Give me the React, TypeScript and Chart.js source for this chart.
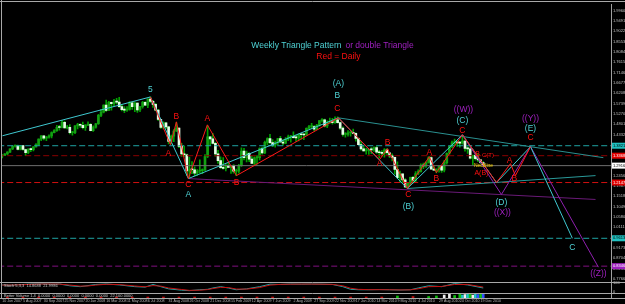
import React, { useEffect, useRef } from "react";
import { Chart, registerables } from "chart.js";
Chart.register(...registerables);

const FONT = '"Liberation Sans", Arial, sans-serif';

// ---- weekly candles (bar index 0 = week of 10 Jun 2007) ----
const opens = [
  1.336,1.338,1.345,1.353,1.368,1.380,1.382,1.365,1.383,1.365,
  1.351,1.365,1.364,1.377,1.387,1.412,1.427,1.416,1.421,1.427,
  1.442,1.451,1.466,1.465,1.489,1.463,1.466,1.441,1.441,1.472,
  1.478,1.475,1.464,1.476,1.479,1.451,1.467,1.482,1.520,1.535,
  1.567,1.543,1.579,1.573,1.581,1.580,1.560,1.546,1.544,1.547,
  1.577,1.560,1.576,1.545,1.560,1.579,1.567,1.594,1.584,1.570,
  1.544,1.502,1.465,1.486,1.468,1.402,1.425,1.449,1.462,1.379,
  1.345,1.341,1.268,1.274,1.273,1.257,1.267,1.269,1.272,1.333,
  1.422,1.413,1.393,1.345,1.314,1.282,1.279,1.293,1.284,1.292,
  1.266,1.266,1.293,1.358,1.328,1.348,1.321,1.302,1.327,1.328,
  1.369,1.349,1.397,1.415,1.396,1.385,1.397,1.415,1.399,1.394,
  1.412,1.422,1.425,1.419,1.418,1.433,1.432,1.431,1.461,1.469,
  1.469,1.457,1.476,1.496,1.500,1.472,1.488,1.490,1.487,1.500,
  1.487,1.462,1.434,1.434,1.441,1.441,1.438,1.415,1.387,1.368,
  1.359,1.362,1.364,1.363,1.374,1.353,1.350,1.347,1.363,1.350,
  1.336,1.329,1.274,1.237,1.254,1.227,1.195,1.211,1.238,1.224,
  1.256,1.264,1.294,1.290,1.306,1.328,1.275,1.271,1.276,1.289,
  1.271,1.305,1.348,1.379,1.395,1.398,1.395,1.394,1.403,1.370,
  1.368,1.325,1.338,1.323,1.318,1.305,
];
const highs = [
  1.341,1.346,1.355,1.368,1.381,1.385,1.385,1.383,1.384,1.367,
  1.369,1.371,1.378,1.392,1.413,1.428,1.428,1.425,1.432,1.445,
  1.455,1.475,1.475,1.497,1.494,1.475,1.478,1.447,1.474,1.484,
  1.482,1.490,1.478,1.491,1.483,1.472,1.484,1.525,1.547,1.568,
  1.590,1.584,1.580,1.593,1.598,1.602,1.570,1.560,1.560,1.583,
  1.581,1.581,1.577,1.561,1.584,1.583,1.595,1.604,1.588,1.575,
  1.547,1.502,1.491,1.488,1.470,1.431,1.455,1.487,1.464,1.393,
  1.381,1.344,1.330,1.310,1.286,1.274,1.318,1.277,1.342,1.472,
  1.425,1.438,1.397,1.361,1.332,1.328,1.299,1.307,1.293,1.296,
  1.276,1.298,1.373,1.370,1.358,1.351,1.334,1.332,1.337,1.373,
  1.376,1.403,1.418,1.434,1.410,1.403,1.416,1.425,1.410,1.419,
  1.430,1.429,1.445,1.431,1.436,1.437,1.438,1.464,1.475,1.484,
  1.474,1.479,1.496,1.506,1.503,1.495,1.508,1.507,1.514,1.514,
  1.490,1.468,1.442,1.451,1.446,1.458,1.441,1.418,1.402,1.381,
  1.370,1.366,1.374,1.377,1.381,1.361,1.360,1.369,1.369,1.350,
  1.345,1.330,1.309,1.267,1.254,1.233,1.216,1.240,1.243,1.264,
  1.272,1.300,1.303,1.309,1.333,1.332,1.293,1.277,1.290,1.290,
  1.315,1.350,1.379,1.403,1.412,1.404,1.402,1.428,1.409,1.378,
  1.375,1.340,1.345,1.345,1.320,1.310,
];
const lows = [
  1.327,1.337,1.341,1.351,1.364,1.376,1.363,1.363,1.362,1.337,
  1.346,1.355,1.359,1.375,1.384,1.405,1.409,1.405,1.416,1.418,
  1.440,1.447,1.453,1.463,1.462,1.459,1.436,1.430,1.437,1.458,
  1.465,1.459,1.452,1.473,1.449,1.447,1.462,1.479,1.514,1.531,
  1.538,1.541,1.544,1.562,1.572,1.556,1.540,1.532,1.538,1.544,
  1.547,1.537,1.533,1.537,1.553,1.564,1.555,1.578,1.556,1.540,
  1.497,1.461,1.459,1.460,1.390,1.390,1.401,1.446,1.373,1.333,
  1.334,1.246,1.233,1.255,1.245,1.247,1.259,1.255,1.269,1.328,
  1.384,1.390,1.335,1.302,1.279,1.276,1.268,1.283,1.256,1.257,
  1.246,1.257,1.288,1.317,1.309,1.310,1.301,1.291,1.298,1.318,
  1.344,1.346,1.386,1.392,1.378,1.376,1.387,1.396,1.385,1.392,
  1.405,1.398,1.416,1.402,1.404,1.412,1.410,1.430,1.458,1.461,
  1.449,1.455,1.471,1.489,1.468,1.464,1.484,1.480,1.484,1.485,
  1.456,1.425,1.421,1.425,1.425,1.436,1.403,1.387,1.362,1.357,
  1.344,1.343,1.346,1.356,1.347,1.327,1.335,1.330,1.342,1.328,
  1.313,1.253,1.234,1.215,1.215,1.191,1.188,1.205,1.212,1.216,
  1.250,1.262,1.278,1.283,1.303,1.275,1.270,1.259,1.262,1.261,
  1.263,1.298,1.344,1.373,1.384,1.379,1.375,1.389,1.357,1.347,
  1.322,1.296,1.316,1.310,1.300,1.288,
];
const closes = [
  1.338,1.345,1.353,1.368,1.380,1.382,1.365,1.383,1.365,1.351,
  1.365,1.364,1.377,1.387,1.412,1.427,1.416,1.421,1.427,1.442,
  1.451,1.466,1.465,1.489,1.463,1.466,1.441,1.441,1.472,1.478,
  1.475,1.464,1.476,1.479,1.451,1.467,1.482,1.520,1.535,1.567,
  1.543,1.579,1.573,1.581,1.580,1.560,1.546,1.544,1.547,1.577,
  1.560,1.576,1.545,1.560,1.579,1.567,1.594,1.584,1.570,1.544,
  1.502,1.465,1.486,1.468,1.402,1.425,1.449,1.462,1.379,1.345,
  1.341,1.268,1.274,1.273,1.257,1.267,1.269,1.272,1.333,1.422,
  1.413,1.393,1.345,1.314,1.282,1.279,1.293,1.284,1.292,1.266,
  1.266,1.293,1.358,1.328,1.348,1.321,1.302,1.327,1.328,1.369,
  1.349,1.397,1.415,1.396,1.385,1.397,1.415,1.399,1.394,1.412,
  1.422,1.425,1.419,1.418,1.433,1.432,1.431,1.461,1.469,1.469,
  1.457,1.476,1.496,1.500,1.472,1.488,1.490,1.487,1.500,1.487,
  1.462,1.434,1.434,1.441,1.441,1.438,1.415,1.387,1.368,1.359,
  1.362,1.364,1.363,1.374,1.353,1.350,1.347,1.363,1.350,1.336,
  1.329,1.274,1.237,1.254,1.227,1.195,1.211,1.238,1.224,1.256,
  1.264,1.294,1.290,1.306,1.328,1.275,1.271,1.276,1.289,1.271,
  1.305,1.348,1.379,1.395,1.398,1.395,1.394,1.403,1.370,1.368,
  1.325,1.338,1.323,1.318,1.305,1.292,
];

// ---- date axis ----
const dateIdx = [0,8,16,24,32,40,48,56,64,72,80,88,96,104,112,120,128,136,144,152,160,168,176,184];
const dateLabels = [
  "10 Jun 2007","5 Aug 2007","30 Sep 2007","25 Nov 2007","20 Jan 2008","16 Mar 2008",
  "11 May 2008","6 Jul 2008","31 Aug 2008","26 Oct 2008","21 Dec 2008","15 Feb 2009",
  "12 Apr 2009","7 Jun 2009","2 Aug 2009","27 Sep 2009","22 Nov 2009","17 Jan 2010",
  "14 Mar 2010","9 May 2010","4 Jul 2010","29 Aug 2010","24 Oct 2010","19 Dec 2010",
];
// ---- price axis ----
const priceTicks = [
  1.9960,1.9491,1.9022,1.8553,1.8084,1.7615,1.7146,1.6677,1.6208,1.5739,1.5270,1.4801,1.4332,
  1.3863,1.3394,1.2925,1.2456,1.1987,1.1518,1.1049,1.0580,1.0111,0.9642,0.9173,0.8704,0.8235,0.7766,
];

// ---- wave lines ----
const cyanWaveIdx = [0.08,57.0,71.6,129.3,155.8,177.0,190.1,203.2,219.3];
const cyanWavePx = [1.4273,1.6038,1.2328,1.5088,1.1875,1.4319,1.2147,1.3776,0.9613];
const triUpperIdx = [129.3,231.2];
const triUpperPx = [1.5088,1.3278];
const triLowerIdx = [155.8,228.2];
const triLowerPx = [1.1875,1.2463];
const purpleLowIdx = [71.6,228.2];
const purpleLowPx = [1.2328,1.1378];
const purpleWaveIdx = [177.0,192.0,203.2,229.3];
const purpleWavePx = [1.4319,1.1604,1.3776,0.8300];
const redWaveIdx = [57.0,64.7,67.0,71.6,78.9,90.1,129.3,145.1,148.2,155.8,164.3,167.0,177.0,190.1,195.5,197.4,203.2];
const redWavePx = [1.6038,1.3866,1.4907,1.2328,1.4771,1.2463,1.5088,1.3187,1.3685,1.1875,1.3323,1.2599,1.4319,1.2147,1.3006,1.2463,1.3776];

// ---- horizontal levels ----
const hlinePx = [1.3821,1.3368,1.2916,1.2147,0.9613,0.8346];
const hlineColor = ["#1fa5a5","#8b0000","#6e6e6e","#d01010","#1fa5a5","#801080"];
const hlineDashed = [true,true,false,true,true,true];
const hlineBox = ["#20c0c0","#e00000","#ffffff","#e00000","#20c0c0","#a020c0"];
const hlineBoxText = ["#000000","#ffffff","#000000","#ffffff","#000000","#ffffff"];

// ---- text notes ----
const CY = "#4fd3d6", RD = "#ff1010", PU = "#a020c0", YE = "#ffd800";
const noteText = [
  "Weekly Triangle Pattern","or double Triangle","Red = Daily",
  "(A)","B","C","5","B","A","A","C","A","B","B","A","C","(B)","A","B",
  "C","(C)","((W))","((Y))","(E)","C","A","B","(D)","((X))","C","((Z))",
  "B","C(T)","Neckline","A(B)",
];
const noteIdx = [
  95.8,132.0,120.8,
  129.3,128.9,128.9,57.0,67.0,63.9,78.9,71.6,71.6,90.1,148.2,145.1,156.2,156.2,164.3,167.0,
  177.0,177.0,177.4,203.2,203.2,203.2,195.1,197.0,192.0,192.4,219.3,229.3,
  182.8,186.8,185.1,184.3,
];
const notePx = [
  1.8391,1.8391,1.7848,
  1.6626,1.6083,1.5495,1.6355,1.5133,1.3459,1.5043,1.2056,1.1604,1.2147,1.3957,1.3006,1.1604,1.1061,1.3504,1.2328,
  1.4500,1.4952,1.5450,1.5043,1.4590,1.4183,1.3142,1.2328,1.1242,1.0789,0.9206,0.7984,
  1.3459,1.3369,1.2916,1.2599,
];
const noteColor = [
  CY,PU,RD,
  CY,CY,RD,CY,RD,RD,RD,RD,CY,RD,RD,RD,RD,CY,RD,RD,
  RD,CY,PU,PU,CY,RD,RD,RD,CY,PU,CY,PU,
  RD,RD,YE,RD,
];
const noteSize = [
  8.5,8.5,8.5,
  8.5,8.5,8.5,8.5,8.5,8.5,8.5,8.5,8.5,8.5,8.5,8.5,8.5,8.5,8.5,8.5,
  8.5,8.5,8.5,8.5,8.5,8.5,8.5,8.5,8.5,8.5,8.5,8.5,
  7,6,5,7,
];
const noteAlign = ["left","left","left"];

// ---- stochastic ----
const stochIdx = [0,4,8,11,15,19,22,26,30,33,36,40,45,51,55,58,61,64,69,72,76,79,81,84,87,90,94,99,103,107,111,115,119,123,127,131,134,137,141,145,149,153,157,160,164,169,174,179,185];
const stochK = [80,78,85,90,92,88,90,70,60,72,85,90,80,60,55,85,60,35,20,15,25,30,45,60,45,25,35,60,88,85,90,88,90,88,85,60,30,25,25,27,25,22,25,45,70,60,95,80,45];
const stochD = [78,79,82,87,90,90,89,78,66,68,78,87,84,68,58,72,66,45,28,18,20,27,38,52,50,33,32,50,78,86,88,89,89,88,86,70,42,30,26,26,25,23,24,36,60,62,85,85,55];

// ---- volume ----
const volIdx = [2,8,14,20,26,32,38,44,50,56,62,68,74,80,86,92,98,104,110,116,122,128,134,140,146,152,158,164,167,170,172,174,176,177,178,179,180,181,182,183,184,185];
const volVal = [2,2,2,2,2,2,2,2,2,2,2,2,2,2,2,2,2,2,2,2,2,2,2,2,2,4,3,3,4,6,8,5,9,6,7,9,8,6,9,7,8,9];
const volColor = [
  "r","r","r","r","r","r","r","r","r","r","r","r","r","r","r","r","r","r","r","r","r","r","r","r","r",
  "g","r","g","g","w","w","g","g","c","w","c","g","w","c","b","g","b",
];
const VOLC: Record<string, string> = { r: "#c01010", g: "#10c010", w: "#f0f0f0", c: "#20c8c8", b: "#3050ff" };

function lineDs(xs: number[], ys: number[], color: string, dash: number[] = [], order = 3, axis = "y") {
  return {
    type: "line",
    data: xs.map((x, k) => ({ x, y: ys[k] })),
    borderColor: color,
    borderWidth: 1,
    borderDash: dash,
    pointRadius: 0,
    fill: false,
    tension: 0,
    order,
    yAxisID: axis,
  };
}

const overlayPlugin = {
  id: "overlay",
  beforeDraw(chart: any) {
    const c = chart.ctx;
    c.save();
    c.fillStyle = "#000";
    c.fillRect(0, 0, chart.width, chart.height);
    c.restore();
  },
  afterDraw(chart: any) {
    const c = chart.ctx;
    const { x, y, yS, yV } = chart.scales;
    c.save();
    c.beginPath();
    c.rect(x.left, y.top, x.right - x.left, y.bottom - y.top);
    c.clip();
    c.textBaseline = "middle";
    noteText.forEach((t, i) => {
      c.font = `${noteSize[i]}px ${FONT}`;
      c.fillStyle = noteColor[i];
      c.textAlign = noteAlign[i] || "center";
      c.fillText(t, x.getPixelForValue(noteIdx[i]), y.getPixelForValue(notePx[i]));
    });
    c.restore();

    c.save();
    c.strokeStyle = "#a8a8a8";
    c.lineWidth = 1;
    const hl = (yy: number) => { c.beginPath(); c.moveTo(0, yy); c.lineTo(chart.width, yy); c.stroke(); };
    hl(1.5);
    hl(Math.round(yS.top) + 0.5);
    hl(Math.round(yV.top) + 0.5);
    hl(Math.round(x.top) + 0.5);
    c.beginPath(); c.moveTo(1.5, 0); c.lineTo(1.5, x.top); c.stroke();
    c.font = `4px ${FONT}`;
    c.textAlign = "left";
    c.textBaseline = "middle";
    hlinePx.forEach((p, i) => {
      const py = y.getPixelForValue(p);
      c.fillStyle = hlineBox[i];
      c.fillRect(y.left + 1, py - 3, chart.width - y.left - 1, 6);
      c.fillStyle = hlineBoxText[i];
      c.fillText(p.toFixed(4), y.left + 2, py);
    });
    c.fillStyle = "#c8c8c8";
    c.textBaseline = "top";
    c.fillText("Stoch 5,3,3  14.8688  21.9986", 4, yS.top + 1.5);
    c.fillText("Better Volume 1.4  0.0000  0.0000  0.0000  0.0000  0.0000  22,100.0000", 4, yV.top + 1);
    c.restore();
  },
};

export default function App() {
  const ref = useRef<HTMLCanvasElement>(null);
  useEffect(() => {
    const idx = closes.map((_, i) => i);
    const wickData = idx.map((i) => ({ x: i, y: [lows[i], highs[i]] }));
    const bodyData = idx.map((i) => ({ x: i, y: [Math.min(opens[i], closes[i]), Math.max(opens[i], closes[i])] }));
    const bodyColors = idx.map((i) => (closes[i] >= opens[i] ? "#12a012" : "#e6ffe6"));

    const datasets: any[] = [
      lineDs(redWaveIdx, redWavePx, "#ff1a1a", [], 1),
      lineDs(cyanWaveIdx, cyanWavePx, "#3fc8d0", [], 2),
      lineDs(purpleWaveIdx, purpleWavePx, "#9020b0", [], 3),
      lineDs(triUpperIdx, triUpperPx, "#2a9090", [], 4),
      lineDs(triLowerIdx, triLowerPx, "#2a9a9a", [], 4),
      lineDs(purpleLowIdx, purpleLowPx, "#6a1a78", [], 4),
      ...hlinePx.map((p, i) => lineDs([-5, 240], [p, p], hlineColor[i], hlineDashed[i] ? [6, 3] : [], 8)),
      {
        type: "bar", data: bodyData, backgroundColor: bodyColors, borderWidth: 0,
        barThickness: 2, grouped: false, minBarLength: 1, order: 18, yAxisID: "y",
      },
      {
        type: "bar", data: wickData, backgroundColor: "#00a000", borderWidth: 0,
        barThickness: 1, grouped: false, order: 19, yAxisID: "y",
      },
      lineDs(stochIdx, stochK, "#20a8a8", [], 6, "yS"),
      lineDs(stochIdx, stochD, "#c81010", [], 5, "yS"),
      {
        type: "bar", data: volIdx.map((v, k) => ({ x: v, y: volVal[k] })),
        backgroundColor: volColor.map((k) => VOLC[k]), borderWidth: 0,
        barThickness: 2, grouped: false, order: 7, yAxisID: "yV",
      },
    ];

    const tickFont = { size: 4, family: FONT };
    const chart = new Chart(ref.current as HTMLCanvasElement, {
      type: "line",
      data: { datasets },
      options: {
        animation: false,
        responsive: false,
        events: [],
        layout: { padding: { top: 3, left: 2, right: 0, bottom: 0 } },
        plugins: { legend: { display: false }, tooltip: { enabled: false } },
        scales: {
          x: {
            type: "linear", position: "bottom", min: -0.08, max: 234.15, offset: false,
            grid: { display: false, drawTicks: false }, border: { display: false },
            afterBuildTicks: (s: any) => { s.ticks = dateIdx.map((v) => ({ value: v })); },
            afterFit: (s: any) => { s.height = 6; },
            ticks: {
              autoSkip: false, maxRotation: 0, minRotation: 0, align: "start", padding: 1,
              font: { size: 3.6, family: FONT }, color: "#b8b8b8",
              callback: (v: any) => { const k = dateIdx.indexOf(Number(v)); return k >= 0 ? dateLabels[k] : ""; },
            },
          },
          y: {
            type: "linear", position: "right", stack: "panes", stackWeight: 279,
            min: 0.7622, max: 2.0246, offset: false,
            grid: { display: false, drawTicks: false }, border: { display: true, color: "#a0a0a0" },
            afterBuildTicks: (s: any) => { s.ticks = priceTicks.map((v) => ({ value: v })); },
            afterFit: (s: any) => { s.width = 14; },
            ticks: { autoSkip: false, padding: 2, font: tickFont, color: "#c0c0c0", callback: (v: any) => Number(v).toFixed(4) },
          },
          yS: {
            type: "linear", position: "right", stack: "panes", stackWeight: 11,
            min: -12, max: 112, offset: false,
            grid: { display: false, drawTicks: false }, border: { display: true, color: "#a0a0a0" },
            afterBuildTicks: (s: any) => { s.ticks = [{ value: 100 }, { value: 0 }]; },
            afterFit: (s: any) => { s.width = 14; },
            ticks: { autoSkip: false, padding: 2, font: tickFont, color: "#c0c0c0" },
          },
          yV: {
            type: "linear", position: "right", stack: "panes", stackWeight: 5,
            min: 0, max: 10, offset: false,
            grid: { display: false, drawTicks: false }, border: { display: true, color: "#a0a0a0" },
            afterFit: (s: any) => { s.width = 14; },
            ticks: { display: false },
          },
        },
      } as any,
      plugins: [overlayPlugin],
    } as any);
    return () => chart.destroy();
  }, []);

  return (
    <div style={{ position: "fixed", left: 0, top: 0, width: 625, height: 304, background: "#000" }}>
      <canvas ref={ref} width={625} height={304} style={{ display: "block" }} />
    </div>
  );
}
